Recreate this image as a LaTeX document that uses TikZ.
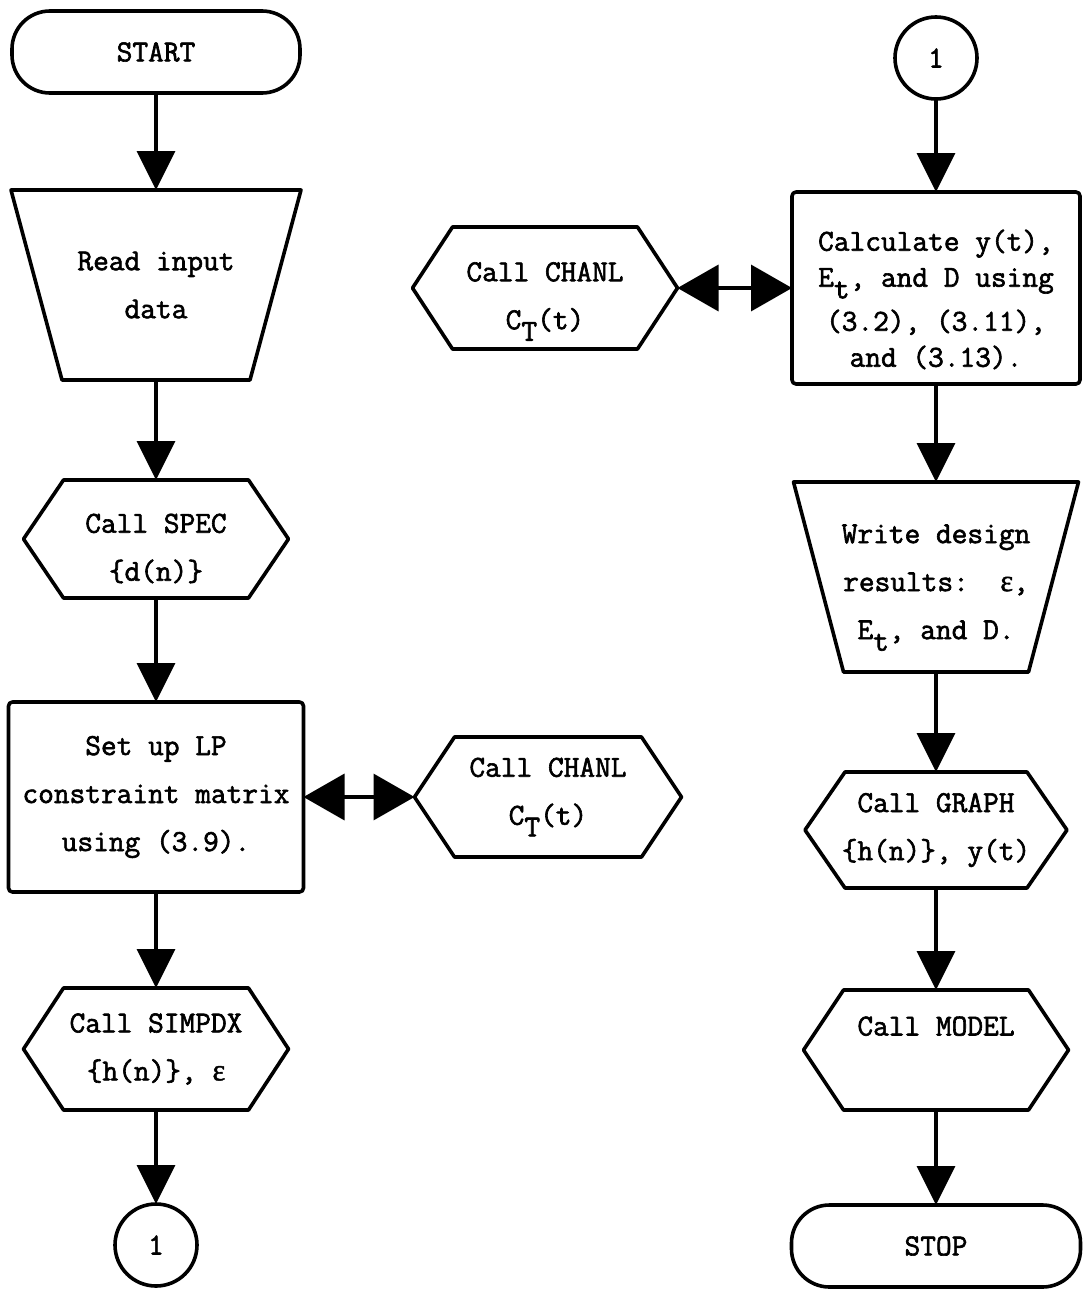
\documentclass[tikz,border=0pt]{standalone}
\usepackage{fontspec}
\newfontfamily\typewr{Latin Modern Mono}[FakeBold=2]
\newfontfamily\grk{Liberation Serif}[FakeBold=1.5]
\usetikzlibrary{arrows.meta}
\newcommand{\lowr}[1]{\raisebox{-0.38em}{#1}}
\newcommand{\eps}{{\grk ε}}
\newcommand{\padtop}[1]{\rule{0pt}{#1}}
% outlines for the shapes that are no plain boxes
\newcommand{\hexout}[2]{\draw[shape line] (#1.west) -- ([xshift=#2]#1.north west) -- ([xshift=-#2]#1.north east) -- (#1.east) -- ([xshift=-#2]#1.south east) -- ([xshift=#2]#1.south west) -- cycle;}
\newcommand{\trapout}[2]{\draw[shape line] (#1.north west) -- (#1.north east) -- ([xshift=-#2]#1.south east) -- ([xshift=#2]#1.south west) -- cycle;}
\tikzset{
  shape line/.style={line width=3.6pt, line join=round},
  basebox/.style={align=center, font=\typewr\fontsize{30.5}{48}\selectfont, inner sep=0pt, outer sep=0pt},
  termbox/.style={basebox, draw, shape line, rounded corners=38pt, minimum width=288pt, minimum height=82pt},
  procbox/.style={basebox, draw, shape line, rounded corners=4pt, minimum width=292pt, minimum height=190pt},
  iobox/.style={basebox, minimum width=288pt, minimum height=190pt},
  hexbox/.style={basebox, minimum width=265pt, minimum height=120pt},
  conn/.style={basebox, circle, draw, shape line, minimum size=82pt},
  arrow/.style={-{Triangle[width=38pt,length=39pt]}, line width=3.6pt},
  dblarrow/.style={{Triangle[width=46pt,length=41pt]}-{Triangle[width=46pt,length=41pt]}, line width=3.6pt}
}

\begin{document}
\begin{tikzpicture}[x=1pt, y=-1pt]
  \useasboundingbox (0,0) rectangle (1082,1290);
  % left column
  \node[termbox] (start) at (156,52) {START};
  \node[iobox, minimum width=290pt] (read) at (156,285) {Read input\\data};
  \trapout{read}{51pt}
  \node[hexbox, minimum height=118pt] (spec) at (156,539) {\padtop{38pt}Call SPEC\\\{d(n)\}};
  \hexout{spec}{40pt}
  \node[procbox, minimum width=295pt] (lp) at (156,797) {Set up LP\\constraint matrix\\using (3.9).};
  \node[hexbox, minimum width=267pt] (chanlB) at (548,797) {Call CHANL\\C\lowr{T}(t)};
  \hexout{chanlB}{40pt}
  \node[hexbox, minimum height=122pt] (simpdx) at (156,1049) {Call SIMPDX\\\{h(n)\}, \eps};
  \hexout{simpdx}{40pt}
  \node[conn] (outA) at (156,1245) {1};
  % right column
  \node[conn] (inB) at (936,58) {1};
  \node[procbox, minimum width=288pt, minimum height=192pt, font=\typewr\fontsize{30.5}{36}\selectfont] (calc) at (936,288) {\padtop{44pt}Calculate y(t),\\E\lowr{t}, and D using\\[8pt](3.2), (3.11),\\and (3.13).};
  \node[hexbox, minimum height=122pt] (chanlA) at (545,288) {\padtop{46pt}Call CHANL\\C\lowr{T}(t)};
  \hexout{chanlA}{40pt}
  \node[iobox, minimum width=285pt] (write) at (936,577) {\padtop{40pt}Write design\\results:~~\eps,\\E\lowr{t}, and D.};
  \trapout{write}{50pt}
  \node[hexbox, minimum width=262pt, minimum height=116pt] (graph) at (936,830) {Call GRAPH\\\{h(n)\}, y(t)};
  \hexout{graph}{40pt}
  \node[hexbox] (model) at (936,1050) {Call MODEL\\~};
  \hexout{model}{40pt}
  \node[termbox, minimum width=289pt] (stop) at (936,1246) {STOP};
  % connectors
  \draw[arrow] (start) -- (read);
  \draw[arrow] (read) -- (spec);
  \draw[arrow] (spec) -- (lp);
  \draw[dblarrow] (lp) -- (chanlB);
  \draw[arrow] (lp) -- (simpdx);
  \draw[arrow] (simpdx) -- (outA);
  \draw[arrow] (inB) -- (calc);
  \draw[dblarrow] (chanlA) -- (calc);
  \draw[arrow] (calc) -- (write);
  \draw[arrow] (write) -- (graph);
  \draw[arrow] (graph) -- (model);
  \draw[arrow] (model) -- (stop);
\end{tikzpicture}
\end{document}
